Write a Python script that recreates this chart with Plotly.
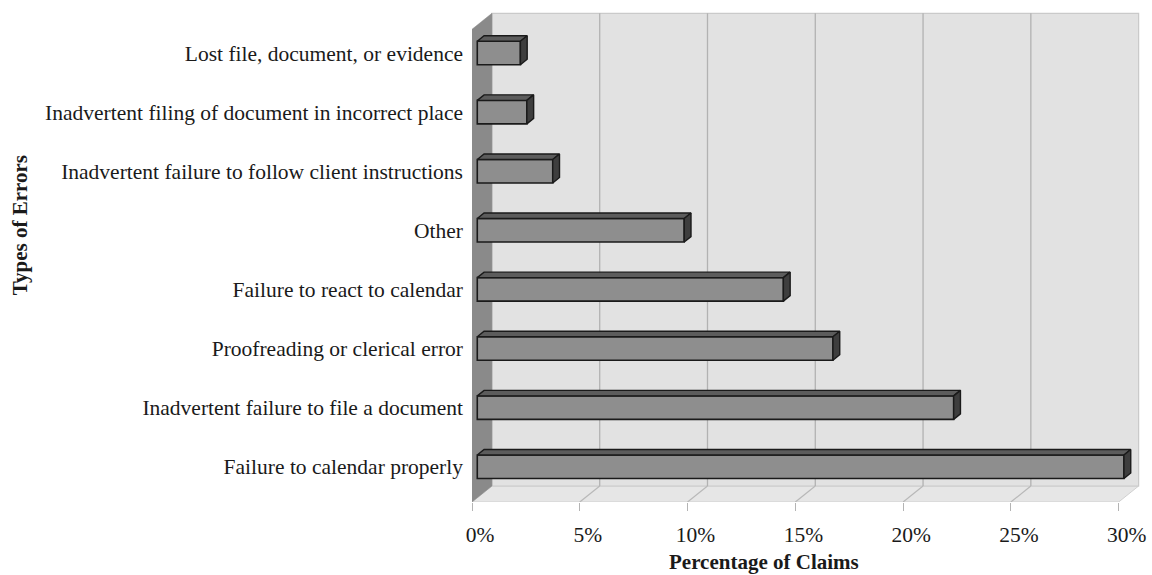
import plotly.graph_objects as go

# ---------------- data (bottom to top) ----------------
categories = [
    "Failure to calendar properly",
    "Inadvertent failure to file a document",
    "Proofreading or clerical error",
    "Failure to react to calendar",
    "Other",
    "Inadvertent failure to follow client instructions",
    "Inadvertent filing of document in incorrect place",
    "Lost file, document, or evidence",
]
claims_pct = [30.0, 22.1, 16.5, 14.2, 9.6, 3.5, 2.3, 2.0]
x_tick_values = [0, 5, 10, 15, 20, 25, 30]
x_tick_labels = ["0%", "5%", "10%", "15%", "20%", "25%", "30%"]

# ---------------- geometry (pseudo-3D look) ----------------
PX_PER_PCT = 21.62
PX_PER_CAT = 59.1
WALL_DX = 20 / PX_PER_PCT
WALL_DY = 16 / PX_PER_CAT
FLOOR_Y = -0.597
WALL_TOP = (466.7 - 13.3) / PX_PER_CAT
X_MAX = 674 / PX_PER_PCT
Y_MAX = (466.7 - 10) / PX_PER_CAT
BAR_X0 = 5.3 / PX_PER_PCT
BAR_H = 23.5 / PX_PER_CAT
BAR_DX = 6.8 / PX_PER_PCT
BAR_DY = 5.5 / PX_PER_CAT
AX_MAX = x_tick_values[-1]

FONT = "Liberation Serif"

ypos = list(range(len(categories)))

fig = go.Figure()

# front faces
fig.add_trace(go.Bar(
    y=ypos, x=claims_pct, base=BAR_X0, orientation="h", width=BAR_H,
    marker=dict(color="#8e8e8e", line=dict(color="#1a1a1a", width=1.6)),
    hoverinfo="skip", showlegend=False,
))

# top faces & side faces
top_x, top_y, side_x, side_y = [], [], [], []
for y, v in zip(ypos, claims_pct):
    yt = y + BAR_H / 2
    yb = y - BAR_H / 2
    x1 = BAR_X0 + v
    top_x += [BAR_X0, BAR_X0 + BAR_DX, x1 + BAR_DX, x1, BAR_X0, None]
    top_y += [yt, yt + BAR_DY, yt + BAR_DY, yt, yt, None]
    side_x += [x1, x1, x1 + BAR_DX, x1 + BAR_DX, x1, None]
    side_y += [yb, yt, yt + BAR_DY, yb + BAR_DY, yb, None]

fig.add_trace(go.Scatter(x=top_x, y=top_y, mode="lines", fill="toself",
                         fillcolor="#5c5c5c", line=dict(color="#1a1a1a", width=1.4),
                         hoverinfo="skip", showlegend=False))
fig.add_trace(go.Scatter(x=side_x, y=side_y, mode="lines", fill="toself",
                         fillcolor="#3e3e3e", line=dict(color="#1a1a1a", width=1.4),
                         hoverinfo="skip", showlegend=False))

shapes = []
floor_back = FLOOR_Y + WALL_DY
# floor
shapes.append(dict(type="path", xref="x", yref="y", layer="below",
                   path=f"M 0 {FLOOR_Y} L {AX_MAX} {FLOOR_Y} L {AX_MAX + WALL_DX} {floor_back} "
                        f"L {WALL_DX} {floor_back} Z",
                   fillcolor="#e6e6e6", line=dict(color="#d0d0d0", width=1)))
# back wall
shapes.append(dict(type="rect", xref="x", yref="y", layer="below",
                   x0=WALL_DX, x1=AX_MAX + WALL_DX, y0=floor_back, y1=WALL_TOP,
                   fillcolor="#e2e2e2", line=dict(color="#cacaca", width=1.2)))
# left wall
shapes.append(dict(type="path", xref="x", yref="y", layer="below",
                   path=f"M 0 {FLOOR_Y} L {WALL_DX} {floor_back} L {WALL_DX} {WALL_TOP} "
                        f"L 0 {WALL_TOP - WALL_DY} Z",
                   fillcolor="#8a8a8a", line=dict(color="#8a8a8a", width=0.5)))
# grid lines
for v in x_tick_values[1:-1]:
    shapes.append(dict(type="line", xref="x", yref="y", layer="below",
                       x0=v + WALL_DX, x1=v + WALL_DX, y0=floor_back, y1=WALL_TOP,
                       line=dict(color="#b2b2b2", width=1.3)))
    shapes.append(dict(type="line", xref="x", yref="y", layer="below",
                       x0=v, x1=v + WALL_DX, y0=FLOOR_Y, y1=floor_back,
                       line=dict(color="#b8b8b8", width=1.2)))

fig.update_layout(
    width=1152, height=575,
    margin=dict(l=472, r=6, t=10, b=73),
    paper_bgcolor="white", plot_bgcolor="white",
    shapes=shapes,
    xaxis=dict(range=[0, X_MAX], tickvals=x_tick_values, ticktext=x_tick_labels,
               showgrid=False, zeroline=False, showline=False,
               ticks="outside", ticklen=8, tickcolor="#b4b4b4", tickwidth=1,
               ticklabelshift=8, ticklabelstandoff=5,
               tickfont=dict(family=FONT, size=21.5, color="#1a1a1a")),
    yaxis=dict(range=[FLOOR_Y, Y_MAX], tickvals=ypos, ticktext=categories,
               showgrid=False, zeroline=False, showline=False, ticks="",
               ticklabelstandoff=8,
               tickfont=dict(family=FONT, size=21.5, color="#1a1a1a")),
    annotations=[
        dict(text="<b>Percentage of Claims</b>", xref="paper", yref="paper",
             x=(765 - 472) / 674, y=(502 - 562) / 492, showarrow=False,
             xanchor="center", yanchor="middle",
             font=dict(family=FONT, size=21, color="#1a1a1a")),
        dict(text="<b>Types of Errors</b>", xref="paper", yref="paper", textangle=-90,
             x=(19 - 472) / 674, y=(502 - 225) / 492, showarrow=False,
             xanchor="center", yanchor="middle",
             font=dict(family=FONT, size=21, color="#1a1a1a")),
    ],
)

fig.write_html("out.html")
